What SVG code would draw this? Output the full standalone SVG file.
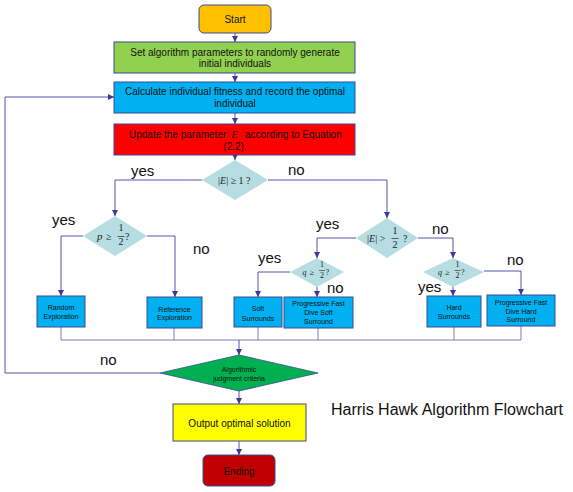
<svg xmlns="http://www.w3.org/2000/svg" width="573" height="492" viewBox="0 0 573 492">
<defs>
<marker id="arr" markerUnits="userSpaceOnUse" markerWidth="6" markerHeight="6" refX="6" refY="3" orient="auto">
<path d="M0,0 L6,3 L0,6 z" fill="#3A3A9A"/>
</marker>
<style>
.box{stroke:#3B4A94;stroke-width:1}
.t{font-family:"Liberation Sans",Arial,sans-serif;fill:#111;text-anchor:middle}
.s{text-anchor:start}
.t10{font-size:10px}
.t7{font-size:7px}
.lab{font-family:"Liberation Sans",Arial,sans-serif;font-size:15px;fill:#111}
.m{font-family:"Liberation Serif","Times New Roman",serif;fill:#222}
.dia{fill:#B6DDE1;stroke:none}
.c{fill:none;stroke:#7B7BC0;stroke-width:1}
.ca{fill:none;stroke:#5555A8;stroke-width:1;marker-end:url(#arr)}
</style>
</defs>
<rect width="573" height="492" fill="#fff"/>

<g id="connectors">
<path class="ca" d="M235,33 V42"/>
<path class="ca" d="M235,73 V82"/>
<path class="ca" d="M235,113 V124"/>
<path class="ca" d="M235,155 V160"/>
<path class="ca" d="M202,180 H115 V216"/>
<path class="ca" d="M268,180 H387 V218"/>
<path class="ca" d="M83,236 H61 V296"/>
<path class="ca" d="M147,236 H175 V297"/>
<path class="ca" d="M356,238 H317 V258"/>
<path class="ca" d="M418,238 H453 V258"/>
<path class="ca" d="M290,272 H258 V297"/>
<path class="ca" d="M317,287 V297"/>
<path class="ca" d="M453,287 V296"/>
<path class="ca" d="M484,271 H521 V295"/>
<path class="c" d="M61,327 V340 M174,328 V340 M258,327 V340 M318,328 V340 M454,327 V340 M521,326 V340 M61,340 H521"/>
<path class="ca" d="M239,340 V355"/>
<path class="ca" d="M160,373 H5 V97 H114"/>
<path class="ca" d="M239,391 V404"/>
<path class="ca" d="M239,441 V455"/>
</g>

<g id="start">
<rect class="box" x="199" y="5" width="72" height="28" rx="5" fill="#FFC000"/>
<text class="t t10" x="235" y="22.5">Start</text>
</g>
<g id="init">
<rect class="box" x="114" y="42" width="241" height="31" fill="#92D050"/>
<text class="t t10" x="235" y="55.5">Set algorithm parameters to randomly generate</text>
<text class="t t10" x="235" y="67">initial individuals</text>
</g>
<g id="fitness">
<rect class="box" x="114" y="82" width="241" height="31" fill="#00B0F0"/>
<text class="t t10" x="235" y="94.5">Calculate individual fitness and record the optimal</text>
<text class="t t10" x="235" y="106.5">individual</text>
</g>
<g id="update">
<rect class="box" x="114" y="124" width="241" height="31" fill="#FF0000"/>
<text class="t t10 s" x="129" y="137.5">Update the parameter</text>
<text class="m" x="231" y="137.5" font-style="italic" font-size="11">E</text>
<text class="t t10 s" x="245" y="137.5">according to Equation</text>
<text class="t t10" x="235" y="149.5">(2.2).</text>
</g>

<g id="dE1">
<polygon class="dia" points="235,160 268,180 235,200 202,180"/>
<text class="m" font-size="10" x="218" y="184">|<tspan font-style="italic">E</tspan>| ≥ 1 ?</text>
</g>
<g id="dp">
<polygon class="dia" points="115,216 147,236 115,256 83,236"/>
<text class="m" font-size="11" x="97" y="240" font-style="italic">p</text>
<text class="m" font-size="10" x="106" y="240">≥</text>
<text class="m" font-size="10" x="121" y="231" text-anchor="middle">1</text>
<line x1="117.5" y1="236.5" x2="124.5" y2="236.5" stroke="#222" stroke-width="0.7"/>
<text class="m" font-size="10" x="121" y="245" text-anchor="middle">2</text>
<text class="m" font-size="10" x="125" y="240">?</text>
</g>
<g id="dE2">
<polygon class="dia" points="387,218 418,238 387,258 356,238"/>
<text class="m" font-size="10" x="367" y="242">|<tspan font-style="italic">E</tspan>| &gt;</text>
<text class="m" font-size="10" x="395" y="234" text-anchor="middle">1</text>
<line x1="391.5" y1="238.5" x2="398.5" y2="238.5" stroke="#222" stroke-width="0.7"/>
<text class="m" font-size="10" x="395" y="248" text-anchor="middle">2</text>
<text class="m" font-size="10" x="403" y="242">?</text>
</g>
<g id="dq1">
<polygon class="dia" points="317,258 344,272 317,287 290,272"/>
<text class="m" font-size="8" x="302.5" y="274.5" font-style="italic">q</text>
<text class="m" font-size="8" x="309.5" y="274.5">≥</text>
<text class="m" font-size="8" x="322" y="267" text-anchor="middle">1</text>
<line x1="319" y1="270.5" x2="325" y2="270.5" stroke="#222" stroke-width="0.6"/>
<text class="m" font-size="8" x="322" y="278" text-anchor="middle">2</text>
<text class="m" font-size="8" x="325.5" y="274.5">?</text>
</g>
<g id="dq2">
<polygon class="dia" points="453,258 484,272 453,287 423,272"/>
<text class="m" font-size="8" x="438" y="274.5" font-style="italic">q</text>
<text class="m" font-size="8" x="445" y="274.5">≥</text>
<text class="m" font-size="8" x="457.5" y="267" text-anchor="middle">1</text>
<line x1="454.5" y1="270.5" x2="460.5" y2="270.5" stroke="#222" stroke-width="0.6"/>
<text class="m" font-size="8" x="457.5" y="278" text-anchor="middle">2</text>
<text class="m" font-size="8" x="461" y="274.5">?</text>
</g>

<g id="random">
<rect class="box" x="37" y="296" width="48" height="31" fill="#00B0F0"/>
<text class="t t7" x="61" y="309.5">Random</text>
<text class="t t7" x="61" y="318.5">Exploration</text>
</g>
<g id="reference">
<rect class="box" x="147" y="297" width="55" height="31" fill="#00B0F0"/>
<text class="t t7" x="174.5" y="311.5">Reference</text>
<text class="t t7" x="174.5" y="319.5">Exploration</text>
</g>
<g id="soft">
<rect class="box" x="234" y="297" width="48" height="30" fill="#00B0F0"/>
<text class="t t7" x="258" y="310.5">Soft</text>
<text class="t t7" x="258" y="320.5">Surrounds</text>
</g>
<g id="progsoft">
<rect class="box" x="284" y="297" width="69" height="31" fill="#00B0F0"/>
<text class="t t7" x="318.5" y="305.5">Progressive Fast</text>
<text class="t t7" x="318.5" y="314.5">Dive Soft</text>
<text class="t t7" x="318.5" y="323.5">Surround</text>
</g>
<g id="hard">
<rect class="box" x="427" y="296" width="54" height="31" fill="#00B0F0"/>
<text class="t t7" x="454" y="309.5">Hard</text>
<text class="t t7" x="454" y="318.5">Surrounds</text>
</g>
<g id="proghard">
<rect class="box" x="487" y="295" width="68" height="31" fill="#00B0F0"/>
<text class="t t7" x="521" y="304.5">Progressive Fast</text>
<text class="t t7" x="521" y="313.5">Dive Hard</text>
<text class="t t7" x="521" y="321.5">Surround</text>
</g>

<g id="judge">
<polygon points="239,355 318,373 239,391 160,373" fill="#00B050" stroke="#3B4A94" stroke-width="0.8"/>
<text class="t t7" x="239" y="371.5">Algorithmic</text>
<text class="t t7" x="239" y="380.5">judgment criteria</text>
</g>
<g id="output">
<rect class="box" x="173" y="404" width="133" height="37" fill="#FFFF00"/>
<text class="t t10" x="239.5" y="426.5">Output optimal solution</text>
</g>
<g id="ending">
<rect class="box" x="203" y="455" width="72" height="31" rx="5" fill="#C00000"/>
<text class="t t10" x="239" y="474.5">Ending</text>
</g>

<g id="labels">
<text class="lab" x="131" y="176">yes</text>
<text class="lab" x="288" y="175">no</text>
<text class="lab" x="52" y="225">yes</text>
<text class="lab" x="193" y="254">no</text>
<text class="lab" x="316" y="229">yes</text>
<text class="lab" x="432" y="234">no</text>
<text class="lab" x="258" y="263">yes</text>
<text class="lab" x="327" y="293">no</text>
<text class="lab" x="507" y="265">no</text>
<text class="lab" x="418" y="292">yes</text>
<text class="lab" x="100" y="365">no</text>
<text x="331" y="415" font-family="Liberation Sans,Arial,sans-serif" font-size="16" fill="#111">Harris Hawk Algorithm Flowchart</text>
</g>
</svg>
